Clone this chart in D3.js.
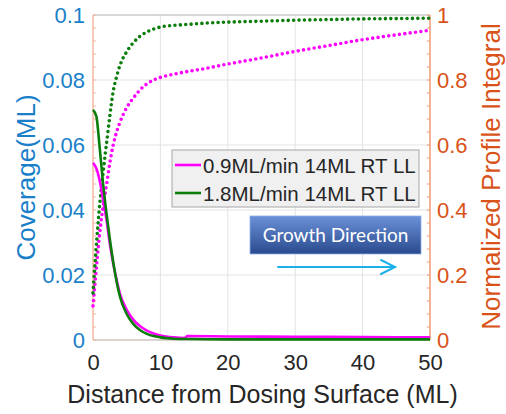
<!DOCTYPE html>
<html><head><meta charset="utf-8">
<script src="https://cdn.jsdelivr.net/npm/d3@7"></script>
<style>body{margin:0;background:#fff}svg{display:block}</style>
</head><body>
<script>
// ---- data ----
const seriesNames = ["0.9ML/min 14ML RT LL", "1.8ML/min 14ML RT LL"];
const xTicks = [0, 10, 20, 30, 40, 50];
const yLeftTicks = [0, 0.02, 0.04, 0.06, 0.08, 0.1];
const yRightTicks = [0, 0.2, 0.4, 0.6, 0.8, 1];

// coverage profiles (left axis)
const covX = [0, 0.5, 1, 1.5, 2, 2.5, 3, 3.5, 4, 5, 6, 7, 8, 9, 10, 12, 13.6, 14, 20, 30, 40, 50];
const covMagenta = [0.0545, 0.0528, 0.049, 0.043, 0.037, 0.0295, 0.0235, 0.0185, 0.0142, 0.0093, 0.0062, 0.0042, 0.0029, 0.0020, 0.0014, 0.0008, 0.0006, 0.0012, 0.0011, 0.0010, 0.0009, 0.0008];
const covGreen   = [0.0708, 0.0688, 0.059, 0.048, 0.039, 0.031, 0.0240, 0.0180, 0.0133, 0.0080, 0.0049, 0.0030, 0.0019, 0.0012, 0.0008, 0.0004, 0.0003, 0.0003, 0.0002, 0.0002, 0.0002, 0.0002];

// normalized profile integrals (right axis)
const intX = [0, 0.3, 0.6, 0.9, 1.2, 1.5, 1.8, 2.1, 2.5, 3, 3.5, 4, 5, 6, 7, 8, 9, 10, 12, 14, 16, 20, 25, 30, 35, 40, 45, 50];
const intMagenta = [0.105, 0.175, 0.245, 0.31, 0.365, 0.41, 0.45, 0.49, 0.545, 0.6, 0.64, 0.67, 0.715, 0.745, 0.77, 0.788, 0.8, 0.808, 0.818, 0.826, 0.833, 0.849, 0.868, 0.888, 0.906, 0.924, 0.939, 0.953];
const intGreen   = [0.145, 0.235, 0.32, 0.395, 0.46, 0.515, 0.57, 0.62, 0.69, 0.765, 0.81, 0.845, 0.887, 0.915, 0.935, 0.948, 0.957, 0.963, 0.968, 0.971, 0.974, 0.978, 0.981, 0.984, 0.986, 0.988, 0.989, 0.99];

// ---- layout ----
const W = 506, H = 414;
const L = 93, R = 430, T = 15, B = 340;
const magenta = "#ff00ff", green = "#0a7d0a";
const blue = "#1a7fc9", orange = "#d95319";

const svg = d3.select("body").append("svg").attr("width", W).attr("height", H)
  .style("font-family", "'Liberation Sans', Arial, sans-serif");

const x = d3.scaleLinear().domain([0, 50]).range([L, R]);
const yL = d3.scaleLinear().domain([0, 0.1]).range([B, T]);
const yR = d3.scaleLinear().domain([0, 1]).range([B, T]);

// grid
const grid = svg.append("g").attr("stroke", "#e3e3e3").attr("stroke-width", 1);
grid.selectAll(".gx").data(xTicks.slice(1, -1)).join("line")
  .attr("x1", d => x(d)).attr("x2", d => x(d)).attr("y1", T).attr("y2", B);
grid.selectAll(".gy").data(yLeftTicks.slice(1, -1)).join("line")
  .attr("x1", L).attr("x2", R).attr("y1", d => yL(d)).attr("y2", d => yL(d));

// frame
svg.append("line").attr("x1", L).attr("x2", R).attr("y1", T).attr("y2", T).attr("stroke", "#b0b0b0");
svg.append("line").attr("x1", L).attr("x2", R).attr("y1", B).attr("y2", B).attr("stroke", "#b8a8a0");
svg.append("line").attr("x1", L).attr("x2", L).attr("y1", T).attr("y2", B).attr("stroke", "#f3b9a0").attr("stroke-width", 1.5);
svg.append("line").attr("x1", R).attr("x2", R).attr("y1", T).attr("y2", B).attr("stroke", "#ef9a76").attr("stroke-width", 1.5);

// minor ticks (right axis, shown both sides)
const minor = d3.range(0, 1.0001, 0.04);
svg.append("g").selectAll("line").data(minor).join("line")
  .attr("x1", L).attr("x2", L + 3).attr("y1", d => yR(d)).attr("y2", d => yR(d))
  .attr("stroke", "#f3b9a0");
svg.append("g").selectAll("line").data(minor).join("line")
  .attr("x1", R - 3).attr("x2", R).attr("y1", d => yR(d)).attr("y2", d => yR(d))
  .attr("stroke", "#ef9a76");

// axes (labels only)
const axB = svg.append("g").attr("transform", `translate(0,${B})`)
  .call(d3.axisBottom(x).tickValues(xTicks).tickSize(0).tickPadding(14).tickFormat(d3.format("d")));
axB.select(".domain").remove();
axB.selectAll("text").attr("fill", "#262626").style("font-size", "22px");

const axLft = svg.append("g").attr("transform", `translate(${L},0)`)
  .call(d3.axisLeft(yL).tickValues(yLeftTicks).tickSize(0).tickPadding(8).tickFormat(d => d === 0 ? "0" : String(+d.toFixed(2))));
axLft.select(".domain").remove();
axLft.selectAll("text").attr("fill", blue).style("font-size", "22px");

const axRt = svg.append("g").attr("transform", `translate(${R},0)`)
  .call(d3.axisRight(yR).tickValues(yRightTicks).tickSize(0).tickPadding(7).tickFormat(d => String(+d.toFixed(1))));
axRt.select(".domain").remove();
axRt.selectAll("text").attr("fill", orange).style("font-size", "22px");

// curves
const lineL = d3.line().x((d, i) => x(covX[i])).y(d => yL(d)).curve(d3.curveMonotoneX);
const lineR = d3.line().x((d, i) => x(intX[i])).y(d => yR(d)).curve(d3.curveMonotoneX);

svg.append("path").attr("d", lineR(intMagenta)).attr("fill", "none").attr("stroke", magenta)
  .attr("stroke-width", 3.6).attr("stroke-linecap", "round").attr("stroke-dasharray", "0 5.4");
svg.append("path").attr("d", lineR(intGreen)).attr("fill", "none").attr("stroke", green)
  .attr("stroke-width", 3.6).attr("stroke-linecap", "round").attr("stroke-dasharray", "0 5.4");
svg.append("path").attr("d", lineL(covMagenta)).attr("fill", "none").attr("stroke", magenta).attr("stroke-width", 2.6);
svg.append("path").attr("d", lineL(covGreen)).attr("fill", "none").attr("stroke", green).attr("stroke-width", 2.6);

// axis titles
svg.append("text").attr("transform", `translate(35,${(T + B) / 2}) rotate(-90)`)
  .attr("text-anchor", "middle").attr("fill", blue).style("font-size", "26px").text("Coverage(ML)");
svg.append("text").attr("transform", `translate(500,${(T + B) / 2 - 1}) rotate(-90)`)
  .attr("text-anchor", "middle").attr("fill", orange).style("font-size", "26px").text("Normalized Profile Integral");
svg.append("text").attr("x", (L + R) / 2 + 1).attr("y", 403)
  .attr("text-anchor", "middle").attr("fill", "#262626").style("font-size", "25px").text("Distance from Dosing Surface (ML)");

// legend
const lg = svg.append("g");
lg.append("rect").attr("x", 172).attr("y", 150).attr("width", 247).attr("height", 57)
  .attr("fill", "#f0f0f0").attr("stroke", "#a6a6a6").attr("stroke-width", 1);
const colors = [magenta, green];
seriesNames.forEach((n, i) => {
  const cy = 165 + i * 28;
  lg.append("line").attr("x1", 175).attr("x2", 201).attr("y1", cy).attr("y2", cy)
    .attr("stroke", colors[i]).attr("stroke-width", 2.6);
  lg.append("text").attr("x", 203).attr("y", cy + 7.5).attr("fill", "#262626")
    .style("font-size", "20.5px").text(n);
});

// growth direction annotation
const defs = svg.append("defs");
const gr = defs.append("linearGradient").attr("id", "gd").attr("x1", 0).attr("x2", 0).attr("y1", 0).attr("y2", 1);
gr.append("stop").attr("offset", "0%").attr("stop-color", "#6b91d8");
gr.append("stop").attr("offset", "100%").attr("stop-color", "#2a4a8e");
svg.append("rect").attr("x", 250).attr("y", 216).attr("width", 171).attr("height", 38)
  .attr("fill", "url(#gd)").attr("stroke", "#8fb0e6").attr("stroke-width", 0.8);
svg.append("text").attr("x", 335.5).attr("y", 242).attr("text-anchor", "middle").attr("fill", "#ffffff")
  .style("font-family", "Lato, 'Open Sans', sans-serif").style("font-size", "19px").text("Growth Direction");
const ag = svg.append("g").attr("stroke", "#1eb0e8").attr("stroke-width", 2).attr("fill", "none").attr("stroke-linecap", "round");
ag.append("line").attr("x1", 278).attr("x2", 395).attr("y1", 267).attr("y2", 267);
ag.append("polyline").attr("points", "381,260 395,267 381,274");
</script>
</body></html>
